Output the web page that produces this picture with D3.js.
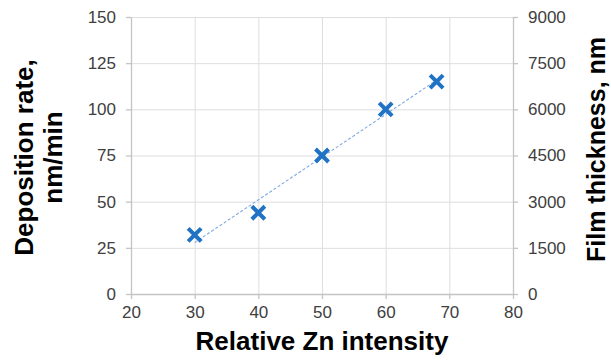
<!DOCTYPE html>
<html>
<head>
<meta charset="utf-8">
<script src="https://cdn.jsdelivr.net/npm/d3@7"></script>
<style>
  html, body { margin: 0; padding: 0; background: #fff; }
  svg { display: block; }
</style>
</head>
<body>
<svg id="chart" width="611" height="360"></svg>
<script>
// ---- data ----
const znIntensity = [30, 40, 50, 60, 68];
const depositionRate = [32, 44, 75, 100, 115];
const xTicks = [20, 30, 40, 50, 60, 70, 80];
const leftTicks = [0, 25, 50, 75, 100, 125, 150];
const rightTicks = [0, 1500, 3000, 4500, 6000, 7500, 9000];
const xTitle = "Relative Zn intensity";
const leftTitle = ["Deposition rate,", "nm/min"];
const rightTitle = "Film thickness, nm";

// ---- layout ----
const W = 611, H = 360;
const m = { left: 131, right: 98, top: 17, bottom: 66 };
const pw = W - m.left - m.right, ph = H - m.top - m.bottom;

const svg = d3.select("#chart");
const g = svg.append("g").attr("transform", `translate(${m.left},${m.top})`);

const x = d3.scaleLinear().domain([20, 80]).range([0, pw]);
const yL = d3.scaleLinear().domain([0, 150]).range([ph, 0]);
const yR = d3.scaleLinear().domain([0, 9000]).range([ph, 0]);

const gridColor = "#dedede";
const axisColor = "#c4c4c4";
const tickFont = "Liberation Sans, Arial, sans-serif";
const tickColor = "#404040";

// gridlines
g.append("g").selectAll("line").data(leftTicks).join("line")
  .attr("x1", 0).attr("x2", pw)
  .attr("y1", d => yL(d) + 0.5).attr("y2", d => yL(d) + 0.5)
  .attr("stroke", gridColor).attr("stroke-width", 1);
g.append("g").selectAll("line").data(xTicks).join("line")
  .attr("y1", 0).attr("y2", ph)
  .attr("x1", d => x(d) + 0.5).attr("x2", d => x(d) + 0.5)
  .attr("stroke", gridColor).attr("stroke-width", 1);

function styleAxis(sel) {
  sel.select(".domain").attr("stroke", axisColor).attr("stroke-width", 1.3);
  sel.selectAll(".tick line").attr("stroke", axisColor).attr("stroke-width", 1.3);
  sel.selectAll(".tick text").attr("fill", tickColor)
    .style("font-family", tickFont).style("font-size", "17px");
}

// axes
const ax = g.append("g").attr("transform", `translate(0,${ph})`)
  .call(d3.axisBottom(x).tickValues(xTicks).tickSize(5).tickSizeOuter(0).tickPadding(6));
styleAxis(ax);
ax.selectAll(".tick text").attr("dy", "0.75em");

const al = g.append("g")
  .call(d3.axisLeft(yL).tickValues(leftTicks).tickSize(5).tickSizeOuter(0).tickPadding(10));
styleAxis(al);

const ar = g.append("g").attr("transform", `translate(${pw},0)`)
  .call(d3.axisRight(yR).tickValues(rightTicks).tickFormat(d3.format("d"))
    .tickSize(5).tickSizeOuter(0).tickPadding(10));
styleAxis(ar);

// linear trendline (least squares from data)
const n = znIntensity.length;
const mx = d3.mean(znIntensity), my = d3.mean(depositionRate);
let sxy = 0, sxx = 0;
for (let i = 0; i < n; i++) {
  sxy += (znIntensity[i] - mx) * (depositionRate[i] - my);
  sxx += (znIntensity[i] - mx) ** 2;
}
const slope = sxy / sxx, icpt = my - slope * mx;
const xExt = d3.extent(znIntensity);
g.append("line")
  .attr("x1", x(xExt[0])).attr("y1", yL(icpt + slope * xExt[0]))
  .attr("x2", x(xExt[1])).attr("y2", yL(icpt + slope * xExt[1]))
  .attr("stroke", "#7ea8e2").attr("stroke-width", 1.1)
  .attr("stroke-dasharray", "3,2");

// markers
const pts = znIntensity.map((v, i) => [v, depositionRate[i]]);
g.append("g").selectAll("path").data(pts).join("path")
  .attr("transform", d => `translate(${x(d[0])},${yL(d[1])})`)
  .attr("d", "M-6.5,-6.5L6.5,6.5M-6.5,6.5L6.5,-6.5")
  .attr("stroke", "#1f72c4").attr("stroke-width", 4)
  .attr("fill", "none");

// titles
const titleFont = "Liberation Sans, Arial, sans-serif";
svg.append("text")
  .attr("x", m.left + pw / 2).attr("y", 350)
  .attr("text-anchor", "middle")
  .style("font-family", titleFont).style("font-size", "26px").style("font-weight", "bold")
  .attr("fill", "#000").text(xTitle);

const cy = m.top + ph / 2 + 2;
[33, 62].forEach((bx, i) => {
  svg.append("text")
    .attr("transform", `translate(${bx},${cy}) rotate(-90)`)
    .attr("text-anchor", "middle")
    .style("font-family", titleFont).style("font-size", "26px").style("font-weight", "bold")
    .attr("fill", "#000").text(leftTitle[i]);
});

svg.append("text")
  .attr("transform", `translate(605,${cy - 8}) rotate(-90)`)
  .attr("text-anchor", "middle")
  .style("font-family", titleFont).style("font-size", "25px").style("font-weight", "bold")
  .attr("fill", "#000").text(rightTitle);
</script>
</body>
</html>
